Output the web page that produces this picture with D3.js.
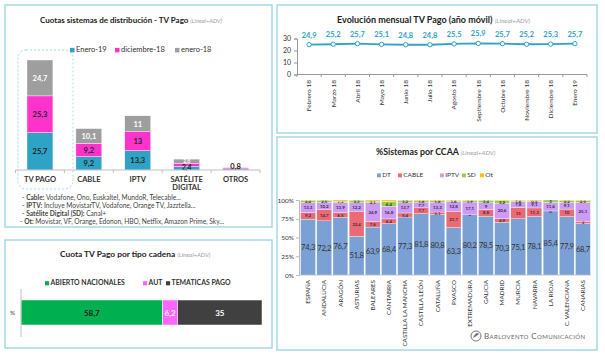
<!DOCTYPE html>
<html><head><meta charset="utf-8">
<script src="https://cdn.jsdelivr.net/npm/d3@7"></script>
<style>body{margin:0;background:#fff}svg{display:block;font-family:Lato,"Open Sans",sans-serif}</style>
</head><body><svg id="c" width="605" height="360"></svg>
<script>
// ---- Data ----
const sysCats = ["TV PAGO","CABLE","IPTV","SATÉLITE DIGITAL","OTROS"];
const sysSeries = ["Enero-19","diciembre-18","enero-18"];
const sysEne19 = [25.7, 9.2, 13.3, 2.4, 0.8];
const sysDic18 = [25.3, 9.2, 13, 2.3, 0.8];
const sysEne18 = [24.7, 10.1, 11, 2.8, 0];
const notes = [["Cable:"," Vodafone, Ono, Euskaltel, MundoR, Telecable..."],["IPTV:"," Incluye MovistarTV, Vodafone, Orange TV, Jazztella..."],["Satélite Digital (SD):"," Canal+"],["Ot:"," Movistar, VF, Orange, Edonon, HBO, Netflix, Amazon Prime, Sky..."]];

const cadKeys = ["ABIERTO NACIONALES","AUT","TEMATICAS PAGO"];
const cadVals = [58.7, 6.2, 35];

const months = ["Febrero 18","Marzo 18","Abril 18","Mayo 18","Junio 18","Julio 18","Agosto 18","Septiembre 18","Octubre 18","Noviembre 18","Diciembre 18","Enero 19"];
const monthVals = [24.9, 25.2, 25.7, 25.1, 24.8, 24.8, 25.5, 25.9, 25.7, 25.2, 25.3, 25.7];
const monthTicks = [0, 10, 20, 30];

const ccaa = ["ESPAÑA","ANDALUCIA","ARAGÓN","ASTURIAS","BALEARES","CANTABRIA","CASTILLA LA MANCHA","CASTILLA LEÓN","CATALUÑA","P.VASCO","EXTREMADURA","GALICIA","MADRID","MURCIA","NAVARRA","LA RIOJA","C. VALENCIANA","CANARIAS"];
const ccaaKeys = ["DT","CABLE","IPTV","SD","Ot"];
const dtVals    = [74.3,72.2,76.7,51.8,63.9,68.4,77.3,81.8,80.8,63.3,80.2,78.5,70.3,75.1,78.1,85.4,77.9,68.7];
const cableVals = [9.2,14.7,6.5,32.4,7.6,6.4,5.4,7.7,3.1,21.7,0,8.8,4.9,15,11.3,0,10,3];
const iptvVals  = [13.3,10.2,13.9,12.2,24.9,16.8,13.7,7.7,13.3,12.8,17.1,9,20.6,7.8,9.1,11.6,9.1,25.1];
const sdVals    = [2.4,2.5,1.3,3.3,2.1,6.4,3.2,1.8,1.8,1.6,1.9,3.4,3.2,1.6,0.5,3,2.2,2.5];
const otVals    = [0.8,0.4,1.6,0.3,1.5,2.0,0.4,1.0,1.0,0.6,0.8,0.3,1.0,0.5,1.0,0,0.8,0.7];
const pctTicks = [0,25,50,75,100];

// ---- Helpers ----
const svg = d3.select("#c");
const fmt = v => String(+(+v).toFixed(1)).replace(".", ",");
const border = "#a6d6e6";
function panel(x,y,w,h){svg.append("rect").attr("x",x).attr("y",y).attr("width",w).attr("height",h).attr("fill","#fff").attr("stroke",border).attr("stroke-width",1.5);}
function title(x,y,main,size){
  const t = svg.append("text").attr("x",x).attr("y",y).attr("font-size",size).attr("fill","#222");
  t.append("tspan").attr("font-weight","bold").text(main+" ");
  t.append("tspan").attr("font-style","italic").attr("fill","#a0a0a0").attr("font-size",size*0.72).text("(Lineal+ADV)");
}
function legend(items,y,size,bold){
  items.forEach(it=>{
    svg.append("rect").attr("x",it.x).attr("y",y-size*0.55).attr("width",size*0.6).attr("height",size*0.6).attr("fill",it.c);
    svg.append("text").attr("x",it.x+size*0.8).attr("y",y).attr("font-size",size).attr("fill","#333").attr("font-weight",bold?"bold":"normal").text(it.t);
  });
}

// ================= Panel 1 =================
panel(5,5,267,222);
title(40,23,"Cuotas sistemas de distribución - TV Pago",8);
const sysColors = ["#2ea3c6","#ff33cc","#9e9e9e"];
legend([{x:70,t:sysSeries[0],c:sysColors[0]},{x:115,t:sysSeries[1],c:sysColors[1]},{x:175,t:sysSeries[2],c:sysColors[2]}],52,7.5,false);
const x1 = d3.scaleBand().domain(sysCats).range([15.5,260]).paddingInner(0.47).paddingOuter(0.235);
const y1 = d3.scaleLinear().domain([0,75.7]).range([170,60]);
const sysRows = sysCats.map((c,i)=>({cat:c,"Enero-19":sysEne19[i],"diciembre-18":sysDic18[i],"enero-18":sysEne18[i]}));
const st1 = d3.stack().keys(sysSeries)(sysRows);
// highlight
svg.append("rect").attr("x",18).attr("y",50).attr("width",55).attr("height",139).attr("rx",8)
  .attr("fill","none").attr("stroke","#8fd0e6").attr("stroke-dasharray","2,2").attr("stroke-width",0.8);
st1.forEach((s,si)=>{
  svg.append("g").selectAll("rect").data(s).join("rect")
    .attr("x",d=>x1(d.data.cat)).attr("width",x1.bandwidth())
    .attr("y",d=>y1(d[1])).attr("height",d=>y1(d[0])-y1(d[1]))
    .attr("fill",sysColors[si]).attr("stroke","#fff").attr("stroke-width",0.4);
  svg.append("g").selectAll("text").data(s.filter(d=>d[1]-d[0]>=5)).join("text")
    .attr("x",d=>x1(d.data.cat)+x1.bandwidth()/2).attr("y",d=>(y1(d[0])+y1(d[1]))/2+3)
    .attr("text-anchor","middle").attr("font-size",7.5).attr("font-weight","bold")
    .attr("fill",si===2?"#fff":"#222").text(d=>fmt(d[1]-d[0]));
});
// small SATÉLITE labels (crowded, as in the reference)
const satX = x1("SATÉLITE DIGITAL")+x1.bandwidth()/2;
svg.append("text").attr("x",satX).attr("y",y1(sysEne19[3]+sysDic18[3]+sysEne18[3])+3.5).attr("text-anchor","middle")
  .attr("font-size",5).attr("font-weight","bold").attr("fill","#fff").text(fmt(sysEne18[3]));
svg.append("text").attr("x",satX).attr("y",y1(sysEne19[3])+3).attr("text-anchor","middle")
  .attr("font-size",7).attr("font-weight","bold").attr("fill","#222").text(fmt(sysEne19[3]));
// OTROS label
svg.append("text").attr("x",x1("OTROS")+x1.bandwidth()/2).attr("y",y1(sysEne19[4]+sysDic18[4])+1.5)
  .attr("text-anchor","middle").attr("font-size",7.5).attr("font-weight","bold").attr("fill","#222").text(fmt(sysEne19[4]));
// axis
const ax1 = svg.append("g");
ax1.append("line").attr("x1",15.5).attr("x2",260).attr("y1",170).attr("y2",170).attr("stroke","#bfbfbf");
const bounds1 = sysCats.map(c=>x1(c)-x1.step()*0.235).concat([260]);
ax1.selectAll("line.t").data(bounds1).join("line").attr("class","t").attr("x1",d=>d).attr("x2",d=>d).attr("y1",170).attr("y2",173).attr("stroke","#bfbfbf");
sysCats.forEach(c=>{
  const parts = c==="SATÉLITE DIGITAL"?["SATÉLITE","DIGITAL"]:[c];
  parts.forEach((p,k)=>svg.append("text").attr("x",x1(c)+x1.bandwidth()/2).attr("y",182+k*8.2).attr("text-anchor","middle")
    .attr("font-size",7.5).attr("font-weight","bold").attr("fill","#333").text(p));
});
notes.forEach((n,i)=>{
  const t = svg.append("text").attr("x",i===3?20:22).attr("y",199.5+i*8.3).attr("font-size",6.6).attr("fill","#444");
  t.append("tspan").text("- ");
  t.append("tspan").attr("font-weight","bold").text(n[0]);
  t.append("tspan").text(n[1]);
});

// ================= Panel 2 =================
panel(5,240,267,108);
title(60,257,"Cuota TV Pago por tipo cadena",8.4);
const cadColors = ["#00b050","#ff66ff","#404040"];
legend([{x:45,t:cadKeys[0],c:cadColors[0]},{x:143,t:cadKeys[1],c:cadColors[1]},{x:166,t:cadKeys[2],c:cadColors[2]}],285,6.9,true);
const x2 = d3.scaleLinear().domain([0,d3.sum(cadVals)]).range([21,262]);
let acc=0;
const cadSegs = cadVals.map((v,i)=>{const s={k:cadKeys[i],v,a:acc,b:acc+v};acc+=v;return s;});
svg.append("g").selectAll("rect").data(cadSegs).join("rect")
  .attr("x",d=>x2(d.a)).attr("width",d=>x2(d.b)-x2(d.a)).attr("y",300).attr("height",25)
  .attr("fill",(d,i)=>cadColors[i]).attr("stroke","#fff").attr("stroke-width",0.5);
svg.append("g").selectAll("text").data(cadSegs).join("text")
  .attr("x",d=>(x2(d.a)+x2(d.b))/2).attr("y",315.5).attr("text-anchor","middle").attr("font-size",8).attr("font-weight","bold")
  .attr("fill",(d,i)=>i===0?"#222":"#fff").text(d=>fmt(d.v));
svg.append("line").attr("x1",21).attr("x2",21).attr("y1",289).attr("y2",337).attr("stroke","#bfbfbf");
svg.append("text").attr("x",10).attr("y",315).attr("font-size",6.5).attr("fill","#444").text("%");

// ================= Panel 3 =================
panel(277,5,320,128);
title(337,23,"Evolución mensual TV Pago (año móvil)",9);
const x3 = d3.scaleBand().domain(months).range([297,587]);
const y3 = d3.scaleLinear().domain([0,30]).range([74.5,38.5]);
const lineBlue = "#2fa2c8";
svg.append("g").attr("transform","translate(297,0)")
  .call(d3.axisLeft(y3).tickValues(monthTicks).tickSize(3).tickPadding(3))
  .call(g=>{g.selectAll("path,line").attr("stroke","#999");g.selectAll("text").attr("font-size",7).attr("fill","#333").attr("font-family","Lato");});
svg.append("line").attr("x1",297).attr("x2",587).attr("y1",74.5).attr("y2",74.5).attr("stroke","#999");
svg.append("g").selectAll("line").data(months.map(m=>x3(m)).concat([587])).join("line")
  .attr("x1",d=>d).attr("x2",d=>d).attr("y1",74.5).attr("y2",77).attr("stroke","#999");
const cx3 = m=>x3(m)+x3.bandwidth()/2;
svg.append("path").datum(monthVals).attr("fill","none").attr("stroke",lineBlue).attr("stroke-width",1.8)
  .attr("d",d3.line().x((d,i)=>cx3(months[i])).y(d=>y3(d)));
svg.append("g").selectAll("circle").data(monthVals).join("circle")
  .attr("cx",(d,i)=>cx3(months[i])).attr("cy",d=>y3(d)).attr("r",2.2).attr("fill","#fff").attr("stroke",lineBlue).attr("stroke-width",1);
svg.append("g").selectAll("text").data(monthVals).join("text")
  .attr("x",(d,i)=>cx3(months[i])).attr("y",d=>y3(d)-7).attr("text-anchor","middle").attr("font-size",7.5).attr("font-weight","bold")
  .attr("fill",lineBlue).text(d=>fmt(d));
svg.append("g").selectAll("text").data(months).join("text")
  .attr("transform",m=>`translate(${cx3(m)+2.3},80) rotate(-90)`).attr("text-anchor","end")
  .attr("font-size",6.5).attr("fill","#333").text(m=>m);

// ================= Panel 4 =================
panel(277,137,320,213);
title(376,155,"%Sistemas por CCAA",8.8);
const ccaaColors = ["#7ba0d4","#ea6b73","#cb9bf6","#92d050","#ffc000"];
legend(ccaaKeys.map((k,i)=>({x:[377,398,440,462,480][i],t:k,c:ccaaColors[i]})),177,6.5,false);
const x4 = d3.scaleBand().domain(ccaa).range([300,591]).paddingInner(0.08).paddingOuter(0.04);
const y4 = d3.scaleLinear().domain([0,100]).range([275,200]);
svg.append("g").attr("transform","translate(299,0)")
  .call(d3.axisLeft(y4).tickValues(pctTicks).tickFormat(d=>d+"%").tickSize(3).tickPadding(2))
  .call(g=>{g.select("path").attr("stroke","#bbb");g.selectAll("line").attr("stroke","#bbb");g.selectAll("text").attr("font-size",6.5).attr("fill","#333").attr("font-family","Lato");});
svg.append("line").attr("x1",299).attr("x2",591).attr("y1",275).attr("y2",275).attr("stroke","#bbb");
const ccaaRows = ccaa.map((c,i)=>({cat:c,DT:dtVals[i],CABLE:cableVals[i],IPTV:iptvVals[i],SD:sdVals[i],Ot:otVals[i]}));
const st4 = d3.stack().keys(ccaaKeys)(ccaaRows);
st4.forEach((s,si)=>{
  svg.append("g").selectAll("rect").data(s).join("rect")
    .attr("x",d=>x4(d.data.cat)).attr("width",x4.bandwidth())
    .attr("y",d=>y4(d[1])).attr("height",d=>y4(d[0])-y4(d[1]))
    .attr("fill",ccaaColors[si]).attr("stroke","#fff").attr("stroke-width",0.3);
  if(si<4){
    svg.append("g").selectAll("text").data(s).join("text")
      .attr("x",d=>x4(d.data.cat)+x4.bandwidth()/2)
      .attr("y",d=>(y4(d[0])+y4(d[1]))/2+(si===0?2.8:1.6))
      .attr("text-anchor","middle").attr("font-size",si===0?7.6:4.4)
      .attr("letter-spacing",si===0?-0.25:0)
      .attr("font-weight",si===0?"normal":"bold")
      .attr("fill",si===0?"#333":"#3a2a40").text(d=>fmt(d[1]-d[0]));
  }
});
svg.append("g").selectAll("text").data(ccaa).join("text")
  .attr("transform",c=>`translate(${x4(c)+x4.bandwidth()/2+2.2},280) rotate(-90)`).attr("text-anchor","end")
  .attr("font-size",6.3).attr("fill","#333").text(c=>c);
// logo
const lg = svg.append("g").attr("transform","translate(476,336)");
lg.append("circle").attr("r",5).attr("fill","none").attr("stroke","#777").attr("stroke-width",1);
lg.append("path").attr("d","M-3,2 Q0,-5 3,-2 Q1,0 -3,2Z").attr("fill","#777");
svg.append("text").attr("x",484).attr("y",339).attr("font-size",8).attr("fill","#666")
  .attr("font-variant","small-caps").attr("letter-spacing",0.4).text("Barlovento Comunicación");
</script></body></html>
